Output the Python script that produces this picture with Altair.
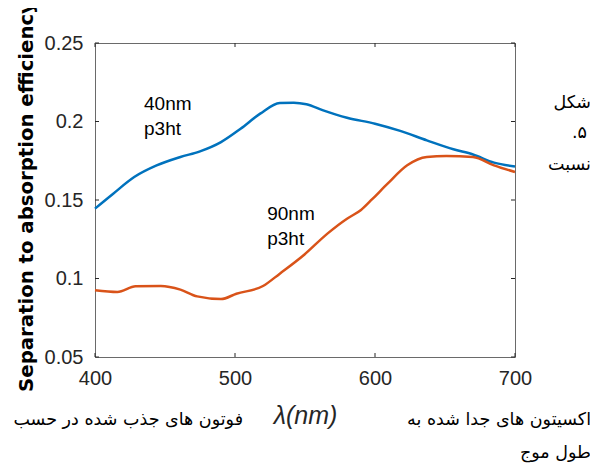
import altair as alt
import pandas as pd

# --- data ---
blue_x = [400, 413, 428, 444, 461, 475, 490, 504, 518, 532, 542, 551, 563, 580, 600, 618, 637, 656, 670, 685, 700]
blue_y = [0.1445, 0.154, 0.1646, 0.172, 0.1774, 0.181, 0.1869, 0.1954, 0.205, 0.2118, 0.212, 0.211,
          0.2071, 0.2024, 0.1986, 0.194, 0.188, 0.1823, 0.179, 0.1738, 0.1714]
orange_x = [400, 416, 429, 447, 461, 473, 490, 501, 520, 532, 549, 566, 580, 590, 598, 609, 623, 637, 651, 670, 685, 700]
orange_y = [0.0925, 0.0914, 0.095, 0.0952, 0.0929, 0.0886, 0.0869, 0.0903, 0.0952, 0.1031, 0.1148, 0.1286,
            0.1381, 0.1436, 0.1505, 0.1604, 0.1721, 0.1774, 0.178, 0.1774, 0.1721, 0.1678]

x_ticks = [400, 500, 600, 700]
y_ticks = [0.05, 0.1, 0.15, 0.2, 0.25]

ann_text = ["40nm", "p3ht", "90nm", "p3ht"]
ann_x = [435, 435, 523, 523]
ann_y = [0.2114, 0.1954, 0.141, 0.125]

side_text = ["شکل", ".۵", "نسبت"]
bottom_right = ["اکسیتون های جدا شده به", "طول موج"]
bottom_left = ["فوتون های جذب شده در حسب"]

W, H = 420, 314
BLUE, ORANGE = "#0072BD", "#D95319"
FONT = "Liberation Sans"

df_blue = pd.DataFrame({"x": blue_x, "y": blue_y})
df_orange = pd.DataFrame({"x": orange_x, "y": orange_y})

xs = alt.Scale(domain=[400, 700], nice=False)
ys = alt.Scale(domain=[0.05, 0.25], nice=False)

xax = alt.Axis(values=x_ticks, ticks=False, domain=False, grid=False, labelFontSize=20,
               labelColor="#262626", labelPadding=11, labelFont=FONT, labelFlush=False,
               title="λ(nm)", titleFontSize=25, titleFontStyle="italic", titleFontWeight="normal",
               titleColor="#262626", titlePadding=15, titleFont=FONT)
yax = alt.Axis(values=y_ticks, ticks=False, domain=False, grid=False, labelFontSize=20,
               labelColor="#262626", labelPadding=12, labelFont=FONT, labelFlush=False, format=".2~f",
               title="Separation to absorption efficiency", titleFontSize=19.7, titleFontWeight="bold",
               titleColor="#000000", titlePadding=8, titleFont="DejaVu Sans", titleY=H / 2 - 4)

base_blue = alt.Chart(df_blue).mark_line(color=BLUE, strokeWidth=2.5, interpolate="monotone").encode(
    x=alt.X("x:Q", scale=xs, axis=xax),
    y=alt.Y("y:Q", scale=ys, axis=yax),
)
line_orange = alt.Chart(df_orange).mark_line(color=ORANGE, strokeWidth=2.5, interpolate="monotone").encode(
    x=alt.X("x:Q", scale=xs),
    y=alt.Y("y:Q", scale=ys),
)

tx = pd.DataFrame({"t": x_ticks})
ty = pd.DataFrame({"t": y_ticks})
TC = "#262626"
tick_b = alt.Chart(tx).mark_rule(color=TC, strokeWidth=1).encode(
    x=alt.X("t:Q", scale=xs), y=alt.value(H), y2=alt.value(H - 4))
tick_t = alt.Chart(tx).mark_rule(color=TC, strokeWidth=1).encode(
    x=alt.X("t:Q", scale=xs), y=alt.value(0), y2=alt.value(4))
tick_l = alt.Chart(ty).mark_rule(color=TC, strokeWidth=1).encode(
    y=alt.Y("t:Q", scale=ys), x=alt.value(0), x2=alt.value(4))
tick_r = alt.Chart(ty).mark_rule(color=TC, strokeWidth=1).encode(
    y=alt.Y("t:Q", scale=ys), x=alt.value(W), x2=alt.value(W - 4))

ann = alt.Chart(pd.DataFrame({"t": ann_text, "x": ann_x, "y": ann_y})).mark_text(
    align="left", baseline="middle", fontSize=19, font=FONT, color="#000000").encode(
    x=alt.X("x:Q", scale=xs), y=alt.Y("y:Q", scale=ys), text="t:N")

PFONT = "DejaVu Sans"
PS = 17.5


def ptext(s, px, py):
    return alt.Chart(pd.DataFrame({"t": [s]})).mark_text(
        align="right", baseline="middle", fontSize=PS, font=PFONT, color="#000").encode(
        x=alt.value(px), y=alt.value(py), text="t:N")


side = [
    ptext(side_text[0], 496, 60),
    ptext(side_text[1], 492, 90),
    ptext(side_text[2], 496, 122),
    ptext(bottom_right[0], 496, 377),
    ptext(bottom_right[1], 496, 410),
    ptext(bottom_left[0], 148, 377),
]

chart = alt.layer(base_blue, line_orange, tick_b, tick_t, tick_l, tick_r, ann, *side).properties(
    width=W, height=H,
    autosize=alt.AutoSizeParams(type="none"),
    padding={"left": 87, "top": 35, "right": 75, "bottom": 107},
    background="white",
).configure_view(stroke="#6a6a6a", strokeWidth=1)

chart.save("out.html", embed_options={"renderer": "svg", "actions": False})
